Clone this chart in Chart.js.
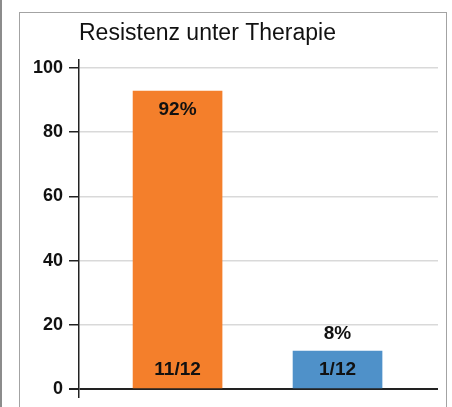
<!DOCTYPE html>
<html>
<head>
<meta charset="utf-8">
<script src="https://cdn.jsdelivr.net/npm/chart.js@4.4.1/dist/chart.umd.min.js"></script>
<style>
    html, body { margin: 0; padding: 0; background: #fff; }
    #wrap { position: relative; width: 452px; height: 407px; overflow: hidden; }
    #edge { position: absolute; left: 0; top: 0; width: 2px; height: 407px; background: #8c8c8c; }
    #frame { position: absolute; left: 19px; top: 12px; width: 426px; height: 420px; border: 1.5px solid #a3a3a3; }
    #chart { position: absolute; left: 0; top: 0; }
</style>
</head>
<body>
<div id="wrap">
    <div id="edge"></div>
    <div id="frame"></div>
    <canvas id="chart" width="452" height="407"></canvas>
</div>
<script>
const categories = ["Resistent", "Nicht resistent"];
const positions = [1, 2];
const values = [92.8, 11.8];
const percentLabels = ["92%", "8%"];
const countLabels = ["11/12", "1/12"];
const barColors = ["#f47f2b", "#4f91c9"];
const yTicks = [0, 20, 40, 60, 80, 100];

const barLabels = {
    id: "barLabels",
    afterDatasetsDraw(chart) {
        const ctx = chart.ctx;
        const bars = chart.getDatasetMeta(0).data;
        ctx.save();
        ctx.font = "bold 19px 'Liberation Sans', Arial, sans-serif";
        ctx.fillStyle = "#111";
        ctx.textAlign = "center";
        ctx.textBaseline = "middle";
        bars.forEach((bar, i) => {
            const h = bar.base - bar.y;
            const pctY = h > 50 ? bar.y + 19 : bar.y - 17;
            ctx.fillText(percentLabels[i], bar.x, pctY);
            ctx.fillText(countLabels[i], bar.x, bar.base - 18);
        });
        ctx.restore();
    }
};

new Chart(document.getElementById("chart"), {
    type: "bar",
    data: {
        labels: categories,
        datasets: [{
            data: values.map((v, i) => ({ x: positions[i], y: v })),
            backgroundColor: barColors,
            barThickness: 89,
            borderWidth: 0
        }]
    },
    options: {
        responsive: false,
        animation: false,
        layout: { padding: { left: 0, right: 14, top: 0, bottom: 10 } },
        plugins: {
            legend: { display: false },
            tooltip: { enabled: false },
            title: {
                display: true,
                text: "Resistenz unter Therapie",
                align: "start",
                fullSize: false,
                color: "#111",
                font: { family: "'Liberation Sans', Arial, sans-serif", size: 23, weight: "normal", lineHeight: 1.2 },
                padding: { top: 20, bottom: 12.4 }
            }
        },
        scales: {
            x: {
                type: "linear",
                display: false,
                offset: false,
                min: 0.384,
                max: 2.628
            },
            y: {
                min: -2.5,
                max: 102.5,
                afterBuildTicks: (scale) => {
                    scale.ticks = yTicks.map((v) => ({ value: v }));
                },
                afterFit: (scale) => {
                    scale.width = 79;
                    scale.paddingTop = 0;
                    scale.paddingBottom = 0;
                },
                ticks: {
                    includeBounds: false,
                    padding: 6,
                    color: "#111",
                    font: { family: "'Liberation Sans', Arial, sans-serif", size: 18, weight: "bold", lineHeight: 1 }
                },
                grid: {
                    color: (c) => (c.tick && c.tick.value === 0 ? "#222" : "#d9d9d9"),
                    lineWidth: (c) => (c.tick && c.tick.value === 0 ? 2 : 1.5),
                    tickColor: "#222",
                    tickLength: 10
                },
                border: { display: true, color: "#222", width: 1.5 }
            }
        }
    },
    plugins: [barLabels]
});
</script>
</body>
</html>
